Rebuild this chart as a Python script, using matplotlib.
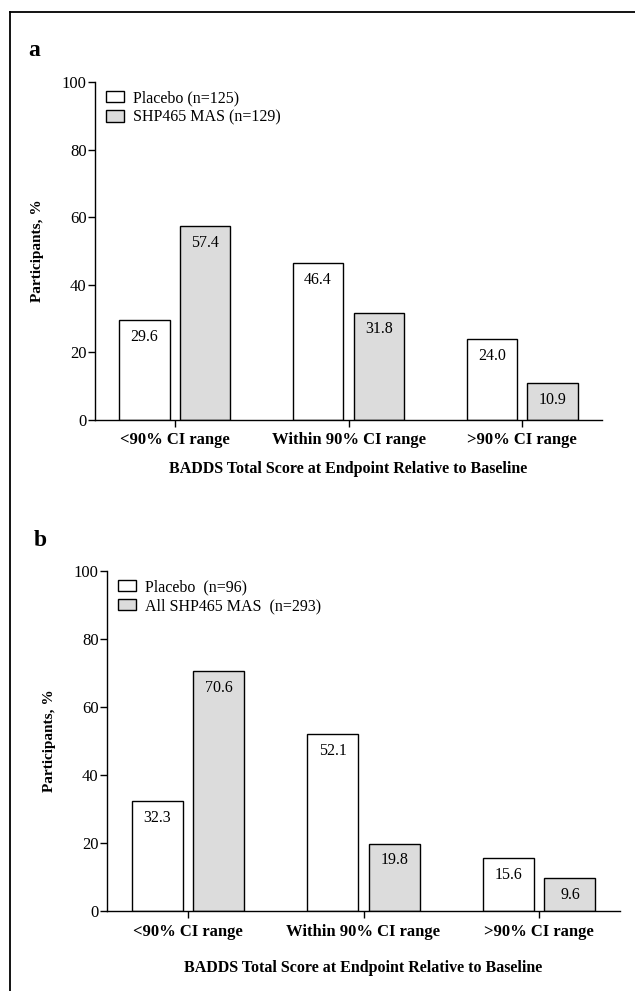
import matplotlib
matplotlib.use("Agg")
import matplotlib.pyplot as plt
from matplotlib.lines import Line2D
import numpy as np

plt.rcParams['font.family'] = ['Liberation Serif', 'DejaVu Serif']

categories = ["<90% CI range", "Within 90% CI range", ">90% CI range"]
xlabel = "BADDS Total Score at Endpoint Relative to Baseline"
ylabel = "Participants, %"

# panel a
a_placebo = [29.6, 46.4, 24.0]
a_active = [57.4, 31.8, 10.9]
a_labels = ["Placebo (n=125)", "SHP465 MAS (n=129)"]

# panel b
b_placebo = [32.3, 52.1, 15.6]
b_active = [70.6, 19.8, 9.6]
b_labels = ["Placebo  (n=96)", "All SHP465 MAS  (n=293)"]

GRAY = "#dcdcdc"

fig = plt.figure(figsize=(6.35, 9.91), dpi=100)

# outer frame (left and top edges)
fig.add_artist(Line2D([9.5 / 635, 9.5 / 635], [0, 1 - 12 / 991], color="black", lw=1.3))
fig.add_artist(Line2D([9.5 / 635, 1], [1 - 12 / 991, 1 - 12 / 991], color="black", lw=1.3))


def draw_panel(rect, placebo, active, labels, letter, letter_pos, xpad, lspace):
    ax = fig.add_axes(rect)
    x = np.arange(len(categories))
    w = 0.29
    off = 0.175
    b1 = ax.bar(x - off, placebo, w, color="white", edgecolor="black", lw=1.0, label=labels[0])
    b2 = ax.bar(x + off, active, w, color=GRAY, edgecolor="black", lw=1.0, label=labels[1])
    for bars, vals in ((b1, placebo), (b2, active)):
        for r, v in zip(bars, vals):
            ax.annotate(f"{v:.1f}", (r.get_x() + r.get_width() / 2, v),
                        xytext=(0, -12), textcoords="offset points",
                        ha="center", va="center", fontsize=11.5)
    ax.set_xlim(-0.46, 2.46)
    ax.set_ylim(0, 100)
    ax.set_yticks([0, 20, 40, 60, 80, 100])
    ax.set_xticks(x)
    ax.set_xticklabels(categories, fontweight="bold", fontsize=12)
    ax.tick_params(axis="y", labelsize=12, direction="out", length=5, width=1, pad=1)
    ax.tick_params(axis="x", direction="out", length=5, width=1, pad=4)
    for s in ("top", "right"):
        ax.spines[s].set_visible(False)
    ax.spines["left"].set_linewidth(1)
    ax.spines["bottom"].set_linewidth(1)
    ax.set_xlabel(xlabel, fontweight="bold", fontsize=11.5, labelpad=xpad)
    ax.set_ylabel(ylabel, fontweight="bold", fontsize=11, labelpad=13)
    ax.legend(loc="upper left", frameon=False, fontsize=11.5, handlelength=1.15,
              handleheight=0.75, handletextpad=0.55, labelspacing=lspace,
              borderaxespad=0.1, bbox_to_anchor=(0.005, 1.0))
    fig.text(letter_pos[0], letter_pos[1], letter, fontsize=17, fontweight="bold",
             ha="left", va="center")
    return ax


draw_panel([95 / 635, 1 - 420 / 991, 507 / 635, 338 / 991],
           a_placebo, a_active, a_labels, "a", (28 / 635, 1 - 50 / 991), 9, 0.22)
draw_panel([107 / 635, 1 - 911 / 991, 513 / 635, 340 / 991],
           b_placebo, b_active, b_labels, "b", (34 / 635, 1 - 540 / 991), 15, 0.2)

fig.savefig("out.png", dpi=100)
